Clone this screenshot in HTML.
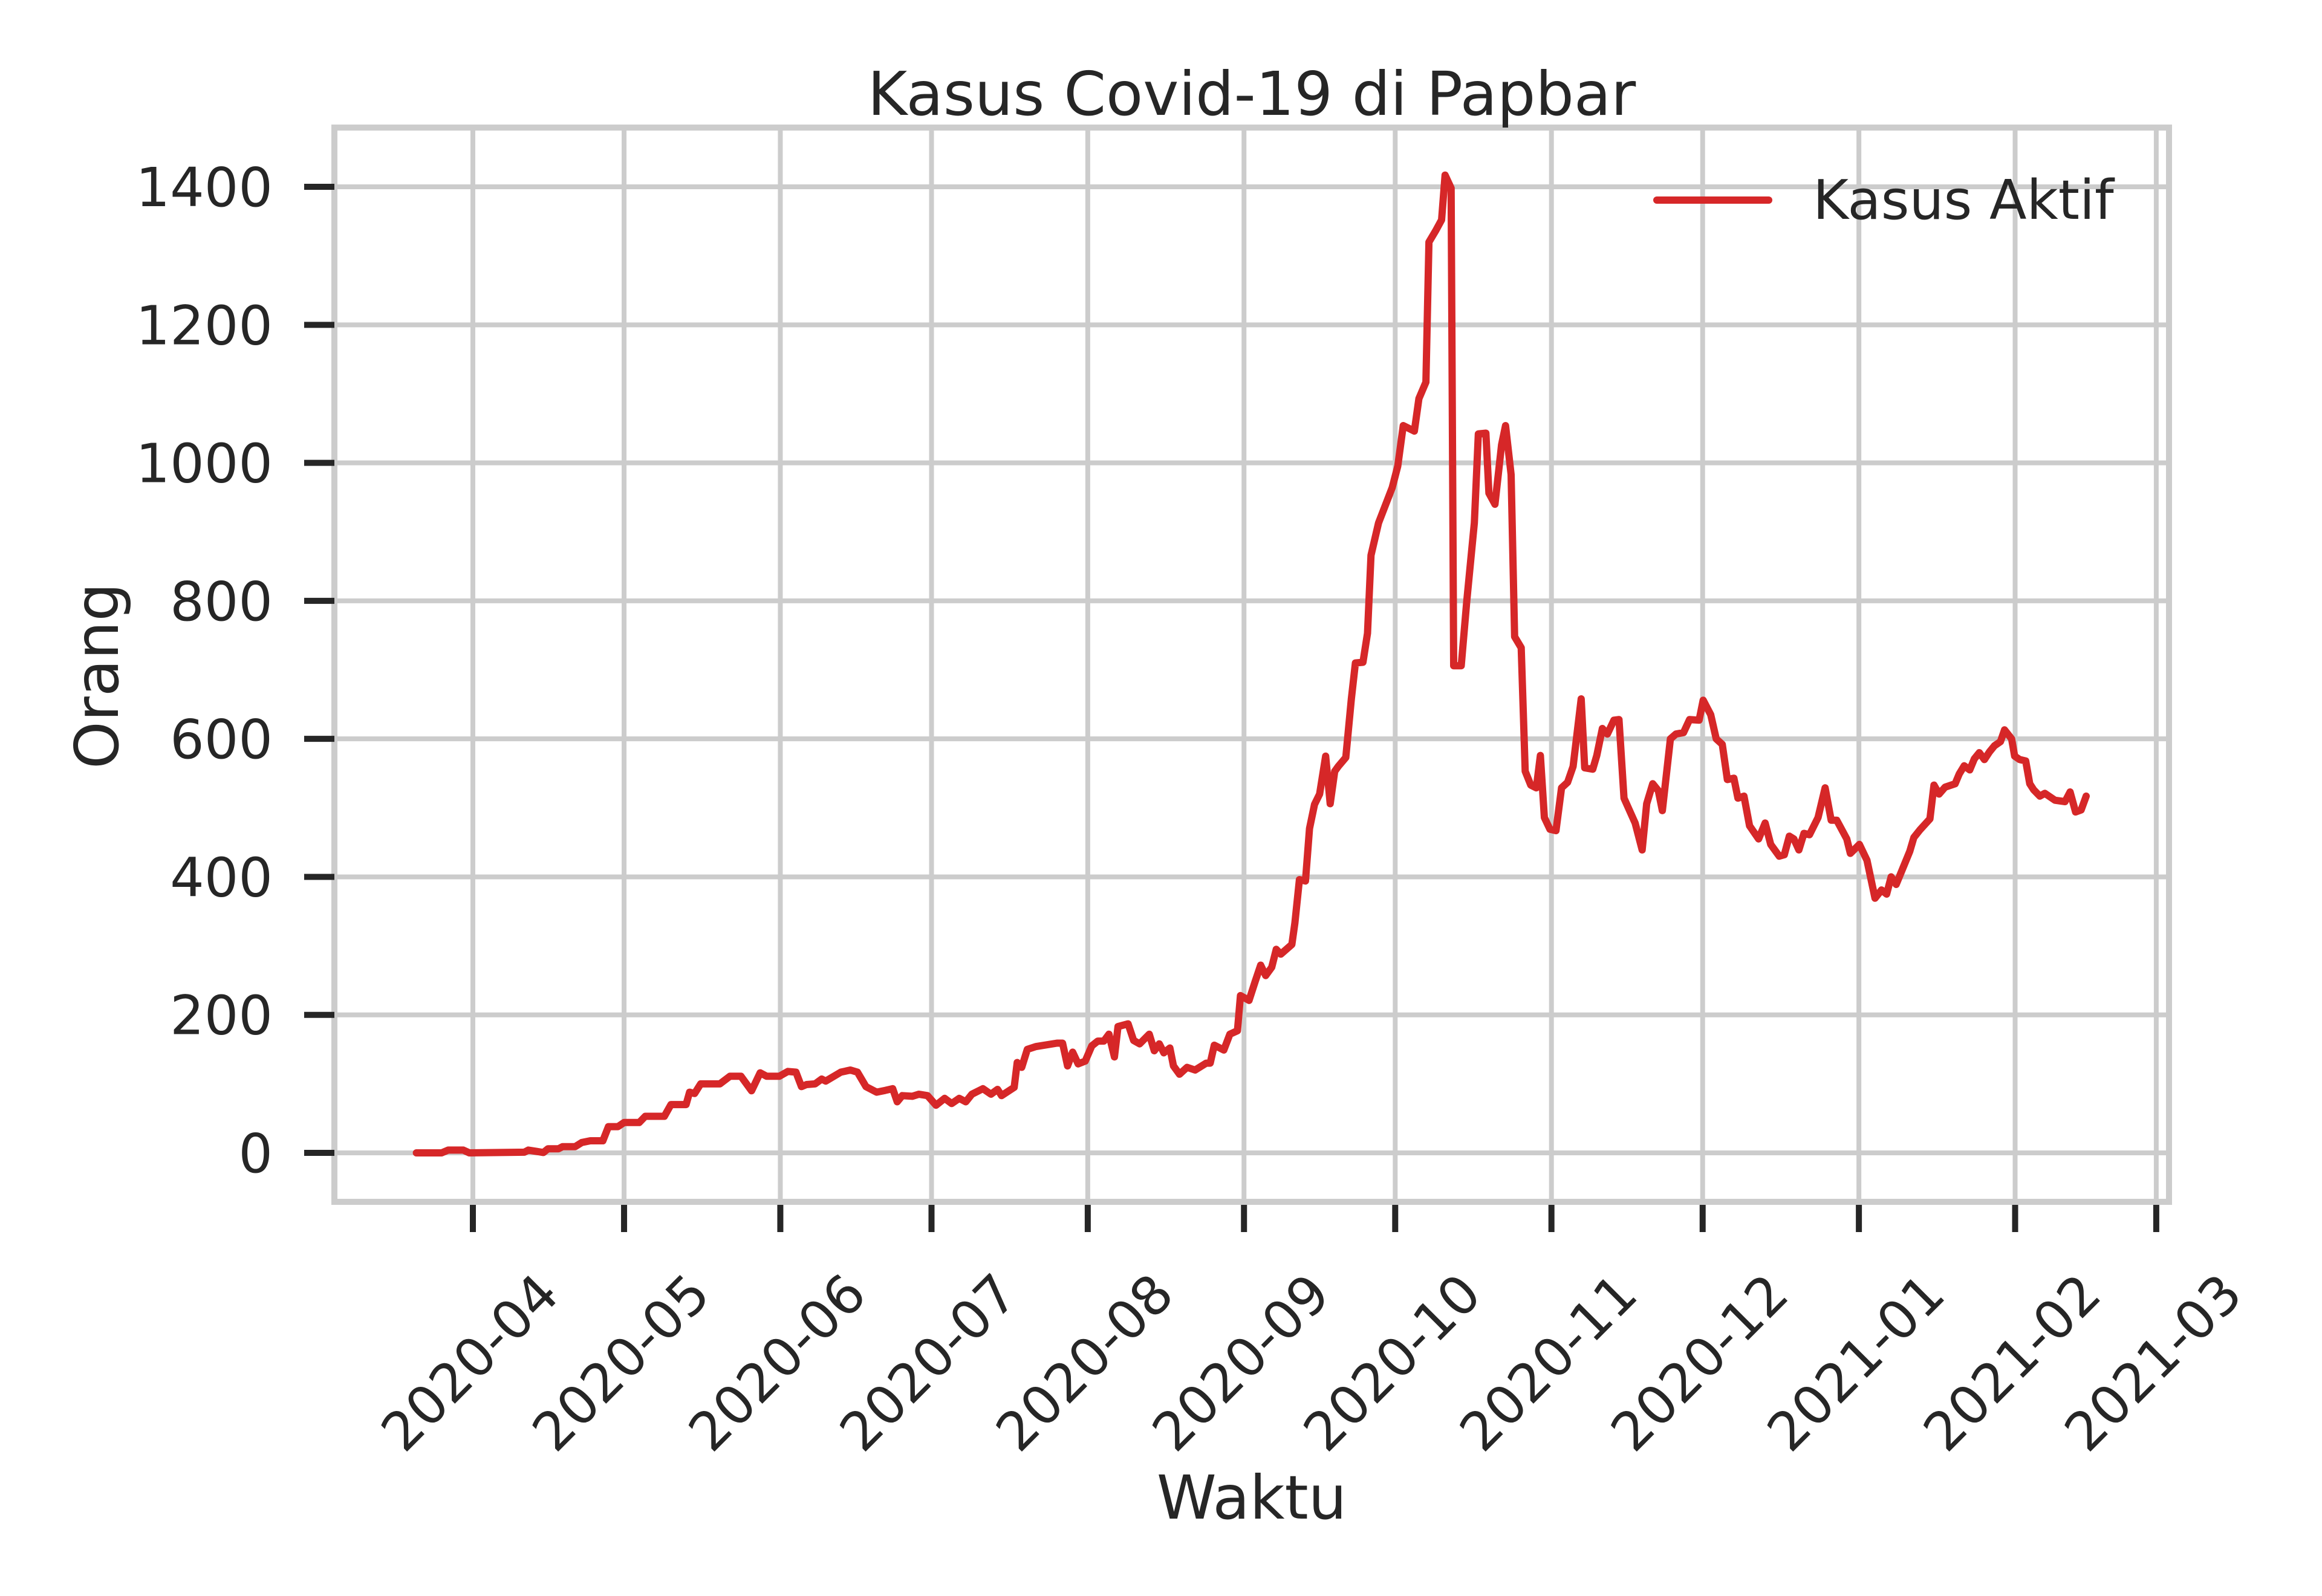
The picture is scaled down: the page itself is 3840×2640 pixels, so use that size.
<!DOCTYPE html>
<html><head><meta charset="utf-8"><style>
html,body{margin:0;padding:0;background:#fff;}
svg{display:block;font-family:"DejaVu Sans","Liberation Sans",sans-serif;}
</style></head><body>
<svg id="chart" width="3840" height="2640" viewBox="0 0 3840 2640" xmlns="http://www.w3.org/2000/svg">
<rect width="3840" height="2640" fill="#fff"/>
<g id="grid"></g>
<rect x="553" y="211" width="3034" height="1777" fill="none" stroke="#cccccc" stroke-width="10"/>
<g id="ticks"></g>
<path id="series" fill="none" stroke="#d62728" stroke-width="12" stroke-linejoin="round" stroke-linecap="round"/>
<text x="2070" y="190" font-size="100" fill="#262626" text-anchor="middle">Kasus Covid-19 di Papbar</text>
<text x="2070" y="2512" font-size="100" fill="#262626" text-anchor="middle">Waktu</text>
<text x="195" y="1118" font-size="100" fill="#262626" text-anchor="middle" transform="rotate(-90 195 1118)">Orang</text>
<g>
<line x1="2740" y1="331" x2="2925" y2="331" stroke="#d62728" stroke-width="12" stroke-linecap="round"/>
<text x="2998" y="362" font-size="90" fill="#262626">Kasus Aktif</text>
</g>
</svg>
<script>
// days offset from 2020-04-01
const days = [-11.2,-6.2,-4.9,-1.9,-0.7,10.2,11,14,14.9,17,17.8,20.3,21.6,23.3,25.8,26.9,28.8,30,33,34.2,38,39.3,42.3,43,44,45.2,49,51,53.2,55.3,57,58.3,60.8,62.5,64.1,65.2,66.2,67.9,69.2,70,73,74.9,76.3,78,80.1,81.8,83.3,84.2,85.2,87.2,88.5,90.2,91.9,93.6,95,96.5,97.8,99,101.2,102.8,104.1,104.9,107.4,108,108.9,110,111.7,115.9,117,118,119,120.1,121.5,122.8,124,125.2,126.2,127.3,128,130,131.1,132.3,134.2,135.2,136.2,137.1,138.3,139,140.2,141.7,143.3,145.5,146.3,147.1,149,150.2,151.7,152.3,154,155.2,156.3,157.3,158.5,159.4,160.3,162.5,163.1,164,165.2,166,167,168,169.2,170.1,171,171.7,173.2,174.3,175.1,176.6,177.5,178.2,179.7,182.4,183.5,184.6,186.8,187.7,189.1,189.7,191,192.2,192.9,194.1,194.6,196.1,197.2,198.7,199.5,201,201.6,202.8,204.1,204.9,206,206.7,208,208.8,209.9,211,211.8,212.6,213.7,214.9,216,217.2,218.3,219.9,220.6,222.2,223,224.1,225.1,226.4,227.4,228.4,230.6,232,232.9,234.1,235.2,236,237.6,238.7,240.2,241.4,243.3,244.1,245.6,246.7,247.9,248.9,250.2,251,252.2,253.3,255.1,256.4,257.5,259.2,260.2,261.2,262.1,263.1,264.1,265.2,266.9,268.3,269.5,270.6,272.6,273.3,275.1,276.6,278.2,279.5,280.5,281.4,282.4,283.7,285.1,285.9,287.1,289.1,289.9,290.9,292.1,294.1,294.9,295.9,297,297.9,298.9,299.9,300.9,301.9,303.1,303.9,305.3,305.9,306.9,308.1,308.9,309.7,310.9,311.9,313.9,315.9,316.9,318,319.1,320.1];
const aktif = [0,0,4,4,0,1,4,0.5,6,6,9,9,15,17.5,17.5,38,38,44,44,53,53,70,70,88,86,100,100,111,111,90,116,111,111,118,117,96,99,100,107,104,117,120,117,96,88,90.5,93,74,83,82,85,83,69,79,71.5,79,74,85,93,85,92,83,95,131,124,150,154,159,159,126,146,129,133,155,162,162,172,139,183,187,163,158,172,148,158,145,152,126,114,124,120,130,130,156,149,172,177,228,221,248,272,257,269,295,288,302,333,396,394,470,505,520,575,506,553,560,573,658,710,711,753,866,913,964,995,1054,1046,1093,1117,1320,1336,1352,1417,1398,706,706,800,913,1042,1043,956,940,1026,1054,983,748,732,553,533,529,576,486,469,467,529,537,560,658,558,556,576,615,607,627,628,514,478,439,506,535,525,496,600,607,609,628,627,656,635,600,592,541,543,514,517,474,455,478,447,430,432,459,455,439,463,461,486,529,482,482,455,434,447,424,369,381,375,400,389,412,437,457,468,484,533,520,530,535,549,561,555,571,580,570,581,590,596,613,600,575,570,568,535,526,517,521,511,509,523,494,497,517];
const yTicks = [0,200,400,600,800,1000,1200,1400];
const xTickDays = [0,30,61,91,122,153,183,214,244,275,306,334];
const xTickLabels = ["2020-04","2020-05","2020-06","2020-07","2020-08","2020-09","2020-10","2020-11","2020-12","2021-01","2021-02","2021-03"];

const NS = "http://www.w3.org/2000/svg";
function xPx(d){ return 782 + d*8.335; }
function yPx(v){ return 1907 - v*1.1414; }
const grid = document.getElementById('grid');
const ticks = document.getElementById('ticks');
function mk(tag, attrs, parent){ const e=document.createElementNS(NS,tag); for(const k in attrs) e.setAttribute(k,attrs[k]); parent.appendChild(e); return e; }

yTicks.forEach(function(v){
  const y = yPx(v);
  const g = mk('line',{x1:553,x2:3587,y1:y,y2:y,stroke:'#cccccc','stroke-width':8},grid);
  
  
  const t = mk('line',{x1:503,x2:553,y1:y,y2:y,stroke:'#262626','stroke-width':10},ticks);
  
  
  const l = mk('text',{x:451,y:y+32,'font-size':89,fill:'#262626','text-anchor':'end'},ticks);
  
  
  l.textContent = String(v);
});
xTickDays.forEach(function(d,i){
  const x = xPx(d);
  const g = mk('line',{x1:x,x2:x,y1:211,y2:1988,stroke:'#cccccc','stroke-width':8},grid);
  
  
  const t = mk('line',{x1:x,x2:x,y1:1993,y2:2038,stroke:'#262626','stroke-width':10},ticks);
  
  
  const cx = x-5, cy = 2254;
  const l = mk('text',{x:cx,y:cy,'font-size':88,fill:'#262626','text-anchor':'middle','dominant-baseline':'central',transform:'rotate(-45 '+cx+' '+cy+')'},ticks);
  
  
  l.textContent = xTickLabels[i];
});
let dstr = '';
days.forEach(function(d,i){ dstr += (i? 'L':'M') + xPx(d).toFixed(1) + ' ' + yPx(aktif[i]).toFixed(1) + ' '; });
document.getElementById('series').setAttribute('d', dstr);
</script>
</body></html>
